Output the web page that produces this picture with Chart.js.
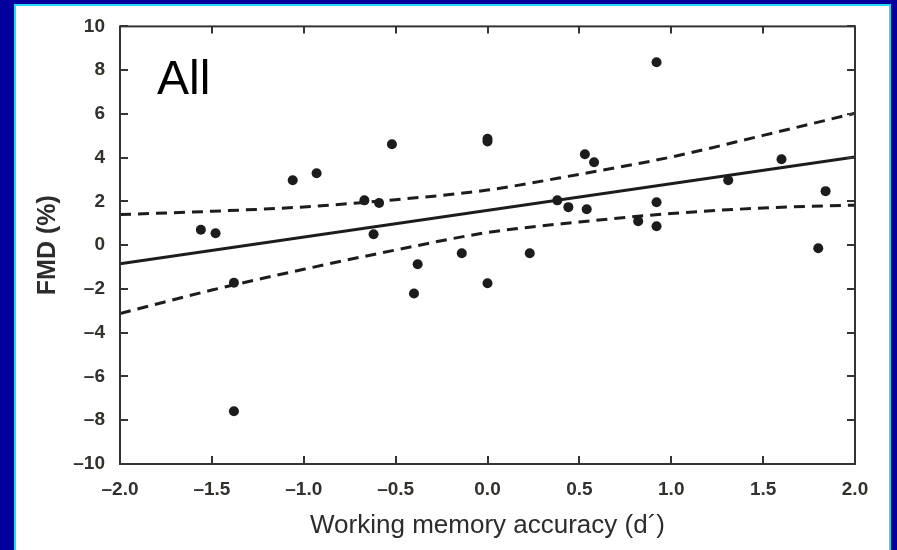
<!DOCTYPE html>
<html>
<head>
<meta charset="utf-8">
<script src="https://cdn.jsdelivr.net/npm/chart.js@4.4.0/dist/chart.umd.min.js"></script>
<style>
  html, body { margin: 0; padding: 0; width: 897px; height: 550px; overflow: hidden; background: #00009c; }
  #panel { position: absolute; left: 14px; top: 4px; width: 877px; height: 560px; background: #ffffff;
           border: 2px solid #22dcf2; box-sizing: border-box; }
  #wrap { position: absolute; left: 0; top: 0; width: 897px; height: 550px; }
</style>
</head>
<body>
<div id="panel"></div>
<div id="wrap"><canvas id="chart"></canvas></div>
<script>
// Working memory accuracy (d') and flow-mediated dilation (%) per participant
const accuracy = [-1.56, -1.48, -1.38, -1.38, -1.06, -0.93, -0.67, -0.59, -0.62, -0.52,
                  -0.38, -0.40, -0.14, 0.00, 0.00, 0.00, 0.23, 0.38, 0.44, 0.53,
                  0.58, 0.54, 0.82, 0.92, 0.92, 0.92, 1.31, 1.60, 1.80, 1.84];
const fmd      = [0.71, 0.55, -1.72, -7.59, 2.97, 3.29, 2.05, 1.93, 0.50, 4.61,
                  -0.87, -2.21, -0.37, 4.86, 4.74, -1.74, -0.37, 2.05, 1.74, 4.16,
                  3.79, 1.64, 1.10, 0.87, 1.96, 8.36, 2.97, 3.93, -0.14, 2.47];

// Fitted regression line and its 95% confidence band
const fitX = [-2, 2];
const fitY = [-0.85, 4.03];
const bandX = [-2, -1.5, -1, -0.5, 0, 0.5, 1, 1.5, 2];
const upperBand = [1.40, 1.55, 1.75, 2.08, 2.52, 3.24, 4.03, 5.02, 6.03];
const lowerBand = [-3.12, -2.05, -1.10, -0.22, 0.58, 1.06, 1.45, 1.70, 1.83];

// Axis ticks
const xTicks = [-2, -1.5, -1, -0.5, 0, 0.5, 1, 1.5, 2];
const yTicks = [-10, -8, -6, -4, -2, 0, 2, 4, 6, 8, 10];

const FONT = '"Liberation Sans", Arial, Helvetica, sans-serif';
const INK = '#1c1c1c';
const AXIS = '#333333';

const pts = (xs, ys) => xs.map((x, i) => ({ x: x, y: ys[i] }));
const dash = v => (v < 0 ? '\u2013' : '') + Math.abs(v);

// Boxed frame with inward ticks on all four sides, plus the panel label
const framePlugin = {
  id: 'frame',
  afterDraw(chart) {
    const { ctx, chartArea: a, scales } = chart;
    const xs = scales.x, ys = scales.y;
    ctx.save();
    ctx.strokeStyle = AXIS;
    ctx.lineWidth = 2;
    ctx.strokeRect(a.left, a.top, a.right - a.left, a.bottom - a.top);
    ctx.beginPath();
    xTicks.forEach(v => {
      const px = Math.round(xs.getPixelForValue(v));
      ctx.moveTo(px, a.bottom); ctx.lineTo(px, a.bottom - 8);
      ctx.moveTo(px, a.top); ctx.lineTo(px, a.top + 7);
    });
    yTicks.forEach(v => {
      const py = Math.round(ys.getPixelForValue(v));
      ctx.moveTo(a.left, py); ctx.lineTo(a.left + 8, py);
      ctx.moveTo(a.right, py); ctx.lineTo(a.right - 8, py);
    });
    ctx.stroke();
    ctx.fillStyle = '#000000';
    ctx.font = '48px ' + FONT;
    ctx.textBaseline = 'alphabetic';
    ctx.textAlign = 'left';
    ctx.fillText('All', a.left + 37, a.top + 68);
    ctx.restore();
  }
};

new Chart(document.getElementById('chart'), {
  type: 'scatter',
  data: {
    datasets: [
      { data: pts(bandX, upperBand), showLine: true, borderColor: INK, borderWidth: 3,
        borderDash: [11, 7], pointRadius: 0, cubicInterpolationMode: 'monotone', order: 3 },
      { data: pts(bandX, lowerBand), showLine: true, borderColor: INK, borderWidth: 3,
        borderDash: [11, 7], pointRadius: 0, cubicInterpolationMode: 'monotone', order: 3 },
      { data: pts(fitX, fitY), showLine: true, borderColor: INK, borderWidth: 3,
        pointRadius: 0, order: 2 },
      { data: pts(accuracy, fmd), showLine: false, pointRadius: 5, pointHoverRadius: 5,
        pointBackgroundColor: INK, pointBorderColor: INK, pointBorderWidth: 0, order: 1 }
    ]
  },
  options: {
    responsive: true,
    maintainAspectRatio: false,
    animation: false,
    events: [],
    layout: { padding: { left: 0, top: 26, right: 42, bottom: 0 } },
    plugins: { legend: { display: false }, tooltip: { enabled: false } },
    scales: {
      x: {
        type: 'linear', min: -2, max: 2,
        afterBuildTicks: s => { s.ticks = xTicks.map(v => ({ value: v })); },
        afterFit: s => { s.height = 86; },
        grid: { display: false, drawTicks: false },
        border: { display: false },
        ticks: { padding: 14, color: '#34302c', font: { family: FONT, size: 19, weight: 'bold' },
                 callback: v => (v < 0 ? '\u2013' : '') + Math.abs(v).toFixed(1) },
        title: { display: true, text: 'Working memory accuracy (d\u00b4)', color: '#2e2c2a',
                 font: { family: FONT, size: 26 }, padding: { top: 0, bottom: 9 } }
      },
      y: {
        type: 'linear', min: -10, max: 10,
        afterBuildTicks: s => { s.ticks = yTicks.map(v => ({ value: v })); },
        afterFit: s => { s.width = 120; },
        grid: { display: false, drawTicks: false },
        border: { display: false },
        ticks: { padding: 15, color: '#34302c', font: { family: FONT, size: 19, weight: 'bold' },
                 callback: v => dash(v) },
        title: { display: true, text: 'FMD (%)', color: '#2e2c2a',
                 font: { family: FONT, size: 25, weight: 'bold' }, padding: { top: 33, bottom: 0 } }
      }
    }
  },
  plugins: [framePlugin]
});
</script>
</body>
</html>
